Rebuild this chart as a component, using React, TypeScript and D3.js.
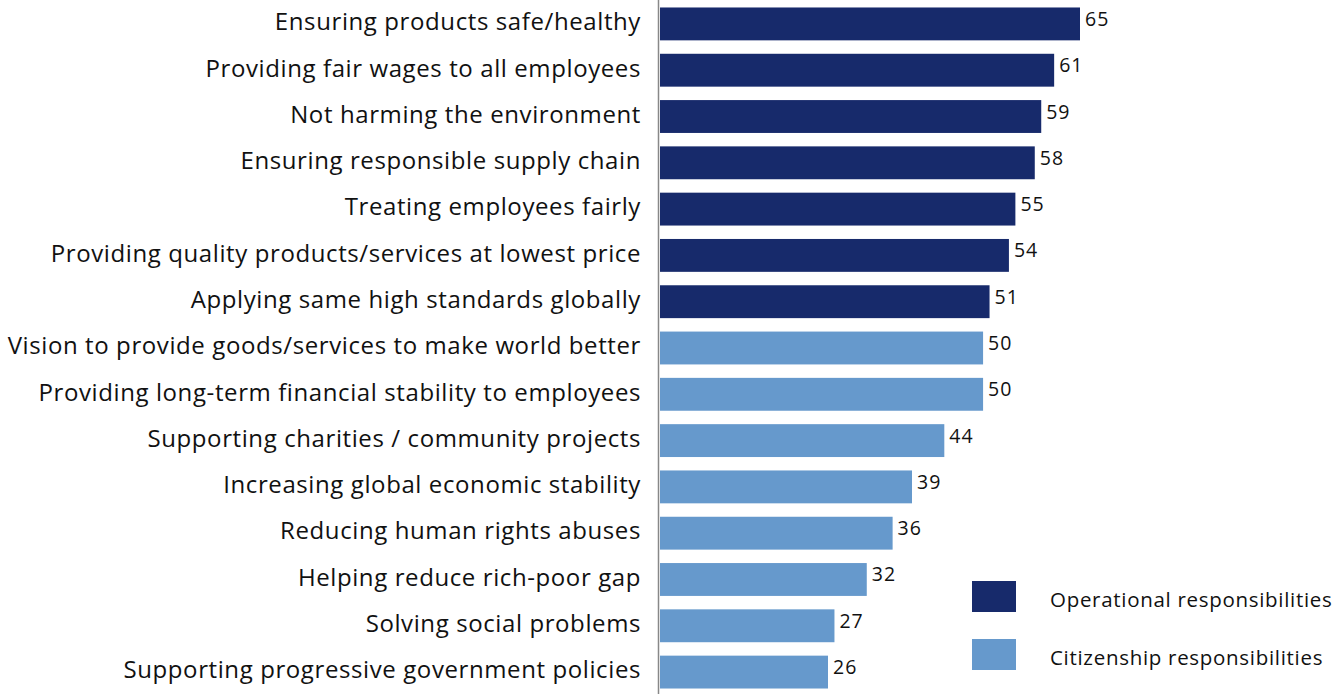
import React from "react";
import * as d3 from "d3";

const categories = [
  "Ensuring products safe/healthy",
  "Providing fair wages to all employees",
  "Not harming the environment",
  "Ensuring responsible supply chain",
  "Treating employees fairly",
  "Providing quality products/services at lowest price",
  "Applying same high standards globally",
  "Vision to provide goods/services to make world better",
  "Providing long-term financial stability to employees",
  "Supporting charities / community projects",
  "Increasing global economic stability",
  "Reducing human rights abuses",
  "Helping reduce rich-poor gap",
  "Solving social problems",
  "Supporting progressive government policies",
];
const values = [65, 61, 59, 58, 55, 54, 51, 50, 50, 44, 39, 36, 32, 27, 26];
const groups = [
  "Operational", "Operational", "Operational", "Operational", "Operational", "Operational", "Operational",
  "Citizenship", "Citizenship", "Citizenship", "Citizenship", "Citizenship", "Citizenship", "Citizenship", "Citizenship",
];
const legendItems = [
  { key: "Operational", label: "Operational responsibilities" },
  { key: "Citizenship", label: "Citizenship responsibilities" },
];

const W = 1332;
const H = 694;
const FONT = "'Open Sans', sans-serif";

export default function App() {
  const x0 = 660;
  const x = d3.scaleLinear().domain([0, 65]).range([x0, 1080]);
  const y = d3.scaleBand().domain(categories).range([1, 695]).paddingInner(0.29).paddingOuter(0.14);
  const color = d3.scaleOrdinal<string, string>().domain(["Operational", "Citizenship"]).range(["#172a6b", "#6699cc"]);

  return (
    <svg width={W} height={H} style={{ position: "absolute", left: 0, top: 0, background: "#fff" }}>
      {categories.map((c, i) => {
        const yy = y(c)!;
        const bw = y.bandwidth();
        return (
          <g key={c}>
            <rect x={x(0)} y={yy} width={x(values[i]) - x(0)} height={bw} fill={color(groups[i])} />
            <text x={641} y={yy + bw / 2 + 6.3} textAnchor="end" fontFamily={FONT} fontSize={24} letterSpacing={0.6} fill="#111">
              {c}
            </text>
            <text x={x(values[i]) + 5} y={yy + bw / 2 + 2} fontFamily={FONT} fontSize={19.5} letterSpacing={1} fill="#111">
              {values[i]}
            </text>
          </g>
        );
      })}
      <line x1={658.5} x2={658.5} y1={0} y2={H} stroke="#888" strokeWidth={1.5} />
      {legendItems.map((d, i) => (
        <g key={d.key} transform={`translate(972, ${581 + i * 58})`}>
          <rect width={44} height={31} fill={color(d.key)} />
          <text x={78} y={25.5} fontFamily={FONT} fontSize={20.5} letterSpacing={0.7} fill="#111">
            {d.label}
          </text>
        </g>
      ))}
    </svg>
  );
}
